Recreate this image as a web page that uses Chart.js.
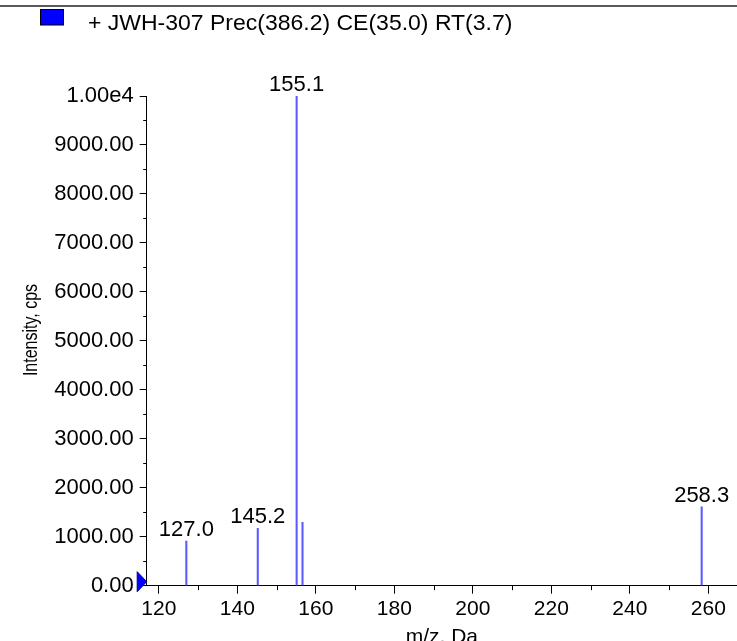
<!DOCTYPE html>
<html>
<head>
<meta charset="utf-8">
<script src="https://cdn.jsdelivr.net/npm/chart.js@4.4.1/dist/chart.umd.min.js"></script>
<style>
html, body { margin: 0; padding: 0; background: #fff; }
</style>
</head>
<body>
<canvas id="c" width="737" height="641"></canvas>
<script>
Chart.defaults.font.family = '"Liberation Sans", Arial, sans-serif';
Chart.defaults.color = "#000";

// Spectrum sticks
const mz = [127.0, 145.2, 155.1, 156.6, 258.3];
const intensity = [912, 1171, 10000, 1294, 1612];
const peakLabels = ["127.0", "145.2", "155.1", "", "258.3"];

// Axes
const xMin = 116.9;
const xMax = 267.3;
const xTicks = [120, 140, 160, 180, 200, 220, 240, 260];
const xMinor = [130, 150, 170, 190, 210, 230, 250];
const yTicks = [0, 1000, 2000, 3000, 4000, 5000, 6000, 7000, 8000, 9000, 10000];
const yTickLabels = ["0.00", "1000.00", "2000.00", "3000.00", "4000.00", "5000.00",
                     "6000.00", "7000.00", "8000.00", "9000.00", "1.00e4"];
const yMinor = [500, 1500, 2500, 3500, 4500, 5500, 6500, 7500, 8500, 9500];

const legendText = "+ JWH-307 Prec(386.2) CE(35.0) RT(3.7)";
const yTitle = "Intensity, cps";

const FONT = '"Liberation Sans", Arial, sans-serif';

// extra drawing: legend, frame line, minor ticks, peak labels, threshold marker
const extras = {
  id: "extras",
  afterDraw(chart) {
    const ctx = chart.ctx;
    const xs = chart.scales.x, ys = chart.scales.y;
    const y0 = ys.getPixelForValue(0);
    ctx.save();

    // top line
    ctx.strokeStyle = "#222";
    ctx.lineWidth = 1.5;
    ctx.beginPath();
    ctx.moveTo(0, 6);
    ctx.lineTo(737, 6);
    ctx.stroke();

    // legend
    ctx.fillStyle = "#0000ff";
    ctx.fillRect(40.5, 9.5, 23, 15.5);
    ctx.strokeStyle = "#000";
    ctx.lineWidth = 1;
    ctx.strokeRect(40.5, 9.5, 23, 15.5);
    ctx.save();
    ctx.fillStyle = "#000";
    ctx.font = "22px " + FONT;
    ctx.textAlign = "left";
    ctx.textBaseline = "alphabetic";
    ctx.translate(88, 30);
    ctx.scale(1.045, 1);
    ctx.fillText(legendText, 0, 0);
    ctx.restore();

    // y title (narrow in the original)
    ctx.save();
    ctx.fillStyle = "#000";
    ctx.translate(31, 330);
    ctx.rotate(-Math.PI / 2);
    ctx.scale(0.8, 1);
    ctx.font = "20px " + FONT;
    ctx.textAlign = "center";
    ctx.textBaseline = "middle";
    ctx.fillText(yTitle, 0, 0);
    ctx.restore();

    // minor ticks
    ctx.strokeStyle = "#000";
    ctx.lineWidth = 1;
    ctx.beginPath();
    xMinor.forEach(v => {
      const px = Math.round(xs.getPixelForValue(v)) + 0.5;
      ctx.moveTo(px, xs.top);
      ctx.lineTo(px, xs.top + 4.5);
    });
    yMinor.forEach(v => {
      const py = Math.round(ys.getPixelForValue(v)) + 0.5;
      ctx.moveTo(ys.right, py);
      ctx.lineTo(ys.right - 3.5, py);
    });
    ctx.stroke();

    // peak labels
    ctx.font = "22px " + FONT;
    ctx.textAlign = "center";
    ctx.textBaseline = "alphabetic";
    ctx.fillStyle = "#000";
    mz.forEach((m, i) => {
      if (!peakLabels[i]) return;
      const px = xs.getPixelForValue(m);
      const py = ys.getPixelForValue(intensity[i]);
      ctx.fillText(peakLabels[i], px, py - 5);
    });

    // threshold marker
    ctx.fillStyle = "#0000ff";
    ctx.strokeStyle = "#000080";
    ctx.beginPath();
    ctx.moveTo(ys.right - 9.5, y0 - 14);
    ctx.lineTo(ys.right, y0 - 4);
    ctx.lineTo(ys.right - 9.5, y0 + 6);
    ctx.closePath();
    ctx.fill();
    ctx.stroke();

    ctx.restore();
  }
};

new Chart(document.getElementById("c"), {
  type: "bar",
  data: {
    datasets: [{
      data: mz.map((m, i) => ({ x: m, y: intensity[i] })),
      backgroundColor: "#5a5aff",
      borderWidth: 0,
      barThickness: 1.4
    }]
  },
  options: {
    responsive: false,
    animation: false,
    layout: { padding: { top: 96, left: 0, right: 0, bottom: 0 } },
    plugins: { legend: { display: false }, tooltip: { enabled: false } },
    scales: {
      x: {
        type: "linear",
        offset: false,
        min: xMin,
        max: xMax,
        afterBuildTicks: s => { s.ticks = xTicks.map(v => ({ value: v })); },
        afterFit: s => { s.height = 55.3; },
        grid: { offset: false, drawOnChartArea: false, tickLength: 8, color: "#000", tickColor: "#000" },
        border: { color: "#000", width: 1 },
        ticks: { font: { size: 21 }, padding: 3, maxRotation: 0, autoSkip: false },
        title: { display: true, text: "m/z, Da", font: { size: 21 }, padding: { top: 0, bottom: -9 } }
      },
      y: {
        min: 0,
        max: 10000,
        afterBuildTicks: s => { s.ticks = yTicks.map(v => ({ value: v })); },
        afterFit: s => { s.width = 146.7; },
        grid: { drawOnChartArea: false, tickLength: 7, color: "#000", tickColor: "#000" },
        border: { color: "#000", width: 1 },
        ticks: {
          font: { size: 22 },
          padding: 6,
          autoSkip: false,
          callback: v => yTickLabels[yTicks.indexOf(v)]
        }
      }
    }
  },
  plugins: [extras]
});
</script>
</body>
</html>
